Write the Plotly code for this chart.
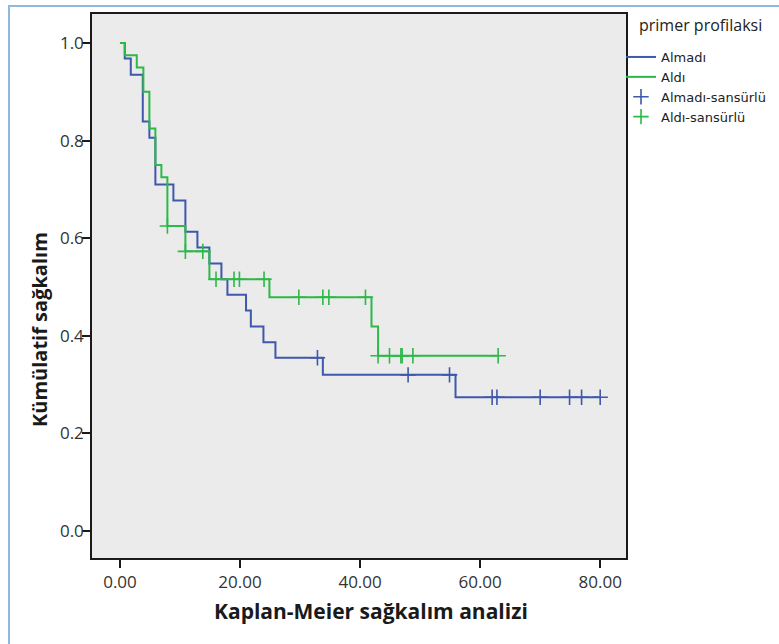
import plotly.graph_objects as go

# ---- data (Kaplan-Meier step curves) ----
almadi_time = [0.0, 0.8, 1.8, 3.8, 4.9, 5.9, 8.9, 10.9, 12.9, 14.9, 16.9, 17.9, 21.0, 21.8, 23.9, 25.9, 33.8, 55.9, 80.0]
almadi_surv = [1.0, 0.968, 0.935, 0.839, 0.806, 0.710, 0.677, 0.613, 0.581, 0.548, 0.516, 0.484, 0.452, 0.419, 0.387, 0.355, 0.320, 0.274, 0.274]
almadi_censor = [32.9, 48.0, 54.9, 62.0, 62.8, 70.0, 74.9, 76.9, 80.0]

aldi_time = [0.0, 0.8, 2.8, 3.9, 4.9, 5.9, 6.9, 7.9, 10.9, 14.9, 24.9, 41.9, 43.0, 63.0]
aldi_surv = [1.0, 0.975, 0.95, 0.90, 0.825, 0.75, 0.725, 0.625, 0.573, 0.516, 0.479, 0.419, 0.359, 0.359]
aldi_censor = [7.9, 10.9, 13.8, 16.0, 19.0, 19.9, 24.0, 29.8, 33.8, 34.8, 40.9, 43.0, 44.9, 46.8, 47.0, 48.8, 63.0]

x_ticks = [0, 20, 40, 60, 80]
y_ticks = [0.0, 0.2, 0.4, 0.6, 0.8, 1.0]

series_names = ["Almadı", "Aldı", "Almadı-sansürlü", "Aldı-sansürlü"]
legend_title = "primer profilaksi"
x_title = "Kaplan-Meier sağkalım analizi"
y_title = "Kümülatif sağkalım"

BLUE = "#3E58AC"
GREEN = "#2EB848"


def surv_at(times, surv, t):
    val = surv[0]
    for ti, si in zip(times, surv):
        if ti <= t:
            val = si
    return val


fig = go.Figure()
fig.add_trace(go.Scatter(x=almadi_time, y=almadi_surv, mode="lines", line_shape="hv",
                         line=dict(color=BLUE, width=2), name=series_names[0]))
fig.add_trace(go.Scatter(x=aldi_time, y=aldi_surv, mode="lines", line_shape="hv",
                         line=dict(color=GREEN, width=2), name=series_names[1]))
fig.add_trace(go.Scatter(x=almadi_censor, y=[surv_at(almadi_time, almadi_surv, t) for t in almadi_censor],
                         mode="markers", name=series_names[2],
                         marker=dict(symbol="cross-thin", size=11, color=BLUE,
                                     line=dict(color=BLUE, width=1.6))))
fig.add_trace(go.Scatter(x=aldi_censor, y=[surv_at(aldi_time, aldi_surv, t) for t in aldi_censor],
                         mode="markers", name=series_names[3],
                         marker=dict(symbol="cross-thin", size=11, color=GREEN,
                                     line=dict(color=GREEN, width=1.6))))

# plot-area geometry in pixels (frame 92..626 x 14..558)
L, R, T, B = 92, 626, 14, 558
W, H = 779, 644
pw, ph = R - L, B - T


def px_x(p):
    return (p - L) / pw


def px_y(p):
    return (B - p) / ph


font_family = "Open Sans, Noto Sans, DejaVu Sans, sans-serif"

fig.update_layout(
    width=W, height=H,
    margin=dict(l=L, r=W - R, t=T, b=H - B, pad=0, autoexpand=False),
    paper_bgcolor="white",
    plot_bgcolor="#EBEBEB",
    font=dict(family=font_family, color="#333333", size=15),
    showlegend=True,
    legend=dict(x=px_x(621), y=px_y(42), xanchor="left", yanchor="top",
                bgcolor="rgba(0,0,0,0)",
                font=dict(size=13, color="#222222", family="DejaVu Sans, sans-serif"),
                itemwidth=30, tracegroupgap=0),
    xaxis=dict(range=[-4.66, 84.3], tickvals=x_ticks, tickformat=".2f",
               showgrid=False, zeroline=False, showline=True, mirror=True,
               linecolor="#1a1a1a", linewidth=1.5, ticks="outside", ticklen=8,
               tickwidth=1.5, tickcolor="#1a1a1a", tickfont=dict(size=17)),
    yaxis=dict(range=[-0.0553, 1.0594], tickvals=y_ticks, tickformat=".1f",
               showgrid=False, zeroline=False, showline=True, mirror=True,
               linecolor="#1a1a1a", linewidth=1.5, ticks="outside", ticklen=8,
               tickwidth=1.5, tickcolor="#1a1a1a", tickfont=dict(size=17),
               ticklabelstandoff=-5),
    annotations=[
        dict(text=x_title, xref="paper", yref="paper", x=px_x(371), y=px_y(611),
             xanchor="center", yanchor="middle", showarrow=False,
             font=dict(size=21, color="#1a1a1a", family=font_family, weight="bold")),
        dict(text=y_title, xref="paper", yref="paper", x=px_x(40), y=px_y(330),
             xanchor="center", yanchor="middle", showarrow=False, textangle=-90,
             font=dict(size=20, color="#1a1a1a", family=font_family, weight="bold")),
        dict(text=legend_title, xref="paper", yref="paper", x=px_x(637), y=px_y(25),
             xanchor="left", yanchor="middle", showarrow=False,
             font=dict(size=16, color="#222222", family=font_family)),
    ],
    shapes=[
        dict(type="rect", xref="paper", yref="paper", x0=px_x(9), x1=px_x(W + 20),
             y0=px_y(H + 20), y1=px_y(6), fillcolor="rgba(0,0,0,0)",
             line=dict(color="#8FB8DC", width=2), layer="below"),
    ],
)

fig.write_html("out.html", config={"displayModeBar": False},
               post_script="document.body.style.margin='0';document.body.style.overflow='hidden';")
